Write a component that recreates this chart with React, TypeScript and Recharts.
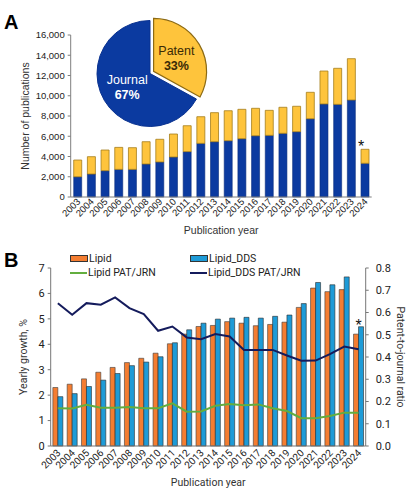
import React from 'react';
import {
  Bar,
  BarChart,
  Cell,
  ComposedChart,
  Label,
  LabelList,
  Legend,
  Line,
  Pie,
  PieChart,
  XAxis,
  YAxis,
} from 'recharts';

// publication years shared by both panels
const years = [
  '2003', '2004', '2005', '2006', '2007', '2008', '2009', '2010', '2011', '2012', '2013',
  '2014', '2015', '2016', '2017', '2018', '2019', '2020', '2021', '2022', '2023', '2024',
];
const partialYear = '2024';

// panel A: number of publications (stacked)
const journalCounts = [
  2000, 2270, 2600, 2730, 2730, 3260, 3460, 3950, 4480, 5300, 5460,
  5560, 5760, 6050, 6090, 6290, 6450, 7730, 9190, 9150, 9580, 3330,
];
const patentCounts = [
  1650, 1710, 2040, 2170, 2140, 2200, 2240, 2270, 2560, 2630, 2870,
  2960, 2900, 2710, 2470, 2570, 2510, 2610, 3250, 3560, 4080, 1380,
];
const countTicks = [0, 2000, 4000, 6000, 8000, 10000, 12000, 14000, 16000];

// panel A inset: share of documents
const shareNames = ['Patent', 'Journal'];
const shareValues = [33, 67];

// panel B: yearly growth (%) and patent-to-journal ratio
const lipidGrowth = [
  2.30, 2.43, 2.64, 2.90, 3.09, 3.28, 3.45, 3.65, 4.02, 4.40, 4.70,
  4.74, 4.89, 4.83, 4.73, 4.78, 4.87, 5.45, 6.21, 6.07, 6.15, 4.40,
];
const ddsGrowth = [
  1.94, 2.06, 2.34, 2.59, 2.85, 3.16, 3.30, 3.51, 4.06, 4.57, 4.83,
  4.99, 5.03, 5.06, 5.03, 5.10, 5.15, 5.60, 6.43, 6.34, 6.65, 4.69,
];
const lipidRatio = [
  0.170, 0.169, 0.185, 0.172, 0.172, 0.175, 0.170, 0.170, 0.192, 0.154, 0.155,
  0.181, 0.189, 0.183, 0.187, 0.170, 0.157, 0.125, 0.125, 0.135, 0.150, 0.150,
];
const ddsRatio = [
  0.642, 0.590, 0.642, 0.635, 0.668, 0.620, 0.593, 0.518, 0.537, 0.488, 0.480,
  0.503, 0.492, 0.432, 0.432, 0.432, 0.407, 0.383, 0.384, 0.413, 0.447, 0.435,
];
const growthTicks = [0, 1, 2, 3, 4, 5, 6, 7];
const ratioTicks = [0, 0.1, 0.2, 0.3, 0.4, 0.5, 0.6, 0.7, 0.8];
const legendOrder = ['Lipid', 'Lipid_DDS', 'Lipid PAT/JRN', 'Lipid_DDS PAT/JRN'];

const countData = years.map((year, i) => ({ year, journal: journalCounts[i], patent: patentCounts[i] }));
const shareData = shareNames.map((name, i) => ({ name, value: shareValues[i] }));
const growthData = years.map((year, i) => ({
  year,
  lipid: lipidGrowth[i],
  lipidDds: ddsGrowth[i],
  lipidRatio: lipidRatio[i],
  ddsRatio: ddsRatio[i],
}));

const fontA = '"Liberation Sans", Arial, sans-serif';
const fontB = 'Roboto, "Liberation Sans", sans-serif';

const BLUE = '#0b3aa0';
const YELLOW = '#fec43c';
const ORANGE = '#f47d31';
const SKY = '#1e9bd7';
const NAVY = '#141b5c';
const GREEN = '#63ae3f';

const axisTitle =
  (text: string, dx: number | 'mid', dy: number | 'mid', angle: number, font: string) =>
  (props: any) => {
    const vb = props.viewBox;
    if (!vb) return null;
    const x = dx === 'mid' ? vb.x + vb.width / 2 : vb.x + dx;
    const y = dy === 'mid' ? vb.y + vb.height / 2 : vb.y + dy;
    return (
      <text
        x={x}
        y={y}
        textAnchor="middle"
        dominantBaseline="central"
        transform={angle ? `rotate(${angle}, ${x}, ${y})` : undefined}
        fontFamily={font}
        fontSize={10.5}
        fill="#333"
      >
        {text}
      </text>
    );
  };

const yearTick = (font: string, size: number, dx: number, dy: number) => (props: any) => (
  <g transform={`translate(${props.x + dx},${props.y + dy})`}>
    <text textAnchor="end" dy="0.35em" transform="rotate(-45)" fontFamily={font} fontSize={size} fill="#222">
      {props.payload.value}
    </text>
  </g>
);

const star = (dx: number, dy: number) => (props: any) => {
  if (years[props.index] !== partialYear) return null;
  return (
    <text x={Number(props.x) + dx} y={Number(props.y) + dy} textAnchor="middle" fontSize={16} fill="#111" fontFamily={fontA}>
      *
    </text>
  );
};

const pieLabel = (show: string, color: string) => (props: any) => {
  if (props.name !== show) return null;
  const RAD = Math.PI / 180;
  const r = props.outerRadius * 0.5;
  const x = props.cx + r * Math.cos(-props.midAngle * RAD);
  const y = props.cy + r * Math.sin(-props.midAngle * RAD);
  return (
    <text x={x} y={y} textAnchor="middle" fontFamily={fontA} fontSize={12.5} fill={color}>
      <tspan x={x} dy={-3}>{props.name}</tspan>
      <tspan x={x} dy={15.5} fontWeight="bold">{`${Math.round(props.percent * 100)}%`}</tspan>
    </text>
  );
};

const GrowthLegend = (props: any) => {
  const items = [...(props.payload || [])].sort(
    (a: any, b: any) => legendOrder.indexOf(a.value) - legendOrder.indexOf(b.value),
  );
  return (
    <div
      style={{
        display: 'grid',
        gridTemplateColumns: '120px 150px',
        fontFamily: fontB,
        fontSize: 10.5,
        color: '#222',
      }}
    >
      {items.map((entry: any) => (
        <div key={entry.value} style={{ display: 'flex', alignItems: 'center', height: 14 }}>
          {entry.type === 'line' ? (
            <span style={{ width: 17, height: 2, background: entry.color }} />
          ) : (
            <span style={{ width: 16, height: 5, background: entry.color, border: '0.6px solid #333' }} />
          )}
          <span style={{ marginLeft: 1 }}>{entry.value}</span>
        </div>
      ))}
    </div>
  );
};

const PanelLetter: React.FC<{ letter: string; top: number }> = ({ letter, top }) => (
  <div
    style={{
      position: 'absolute',
      left: 4,
      top,
      fontFamily: fontA,
      fontWeight: 'bold',
      fontSize: 20,
      lineHeight: '20px',
      color: '#000',
    }}
  >
    {letter}
  </div>
);

export default function App() {
  return (
    <div style={{ position: 'absolute', left: 0, top: 0, width: 417, height: 496, background: '#fff', overflow: 'hidden' }}>
      <div style={{ position: 'absolute', left: 0, top: 0 }}>
        <BarChart
          width={417}
          height={240}
          data={countData}
          margin={{ top: 35, right: 45.3, bottom: 0, left: 10.7 }}
          barCategoryGap="22%"
        >
          <XAxis
            dataKey="year"
            interval={0}
            height={43}
            tickLine={false}
            tickSize={0}
            tickMargin={3}
            axisLine={{ stroke: '#7f7f7f' }}
            tick={yearTick(fontA, 9.5, 1, 0)}
          >
            <Label content={axisTitle('Publication year', 'mid', 33, 0, fontA)} />
          </XAxis>
          <YAxis
            width={60}
            domain={[0, 16000]}
            ticks={countTicks}
            interval={0}
            tickFormatter={(v: number) => v.toLocaleString('en-US')}
            tickSize={3}
            tickMargin={3}
            axisLine={{ stroke: '#7f7f7f' }}
            tickLine={{ stroke: '#7f7f7f' }}
            tick={{ fontSize: 9.5, fill: '#222', fontFamily: fontA }}
          >
            <Label content={axisTitle('Number of publications', 14.3, 'mid', -90, fontA)} />
          </YAxis>
          <Bar dataKey="journal" stackId="a" fill={BLUE} stroke="#082c7c" strokeWidth={0.6} isAnimationActive={false} />
          <Bar dataKey="patent" stackId="a" fill={YELLOW} stroke="#a57d1c" strokeWidth={0.8} isAnimationActive={false}>
            <LabelList content={star(0, 3)} />
          </Bar>
        </BarChart>
      </div>

      <div style={{ position: 'absolute', left: 80, top: 0 }}>
        <PieChart width={130} height={130}>
          <Pie
            data={shareData}
            dataKey="value"
            nameKey="name"
            cx={65}
            cy={68.5}
            outerRadius={53}
            startAngle={90}
            endAngle={-270}
            labelLine={false}
            label={pieLabel('Journal', '#fff')}
            isAnimationActive={false}
          >
            {shareData.map((d) => (
              <Cell key={d.name} fill={d.name === 'Journal' ? BLUE : 'none'} stroke={d.name === 'Journal' ? '#0a3290' : 'none'} />
            ))}
          </Pie>
          <Pie
            data={shareData}
            dataKey="value"
            nameKey="name"
            cx={68.6}
            cy={66.4}
            outerRadius={53}
            startAngle={90}
            endAngle={-270}
            labelLine={false}
            label={pieLabel('Patent', '#3a2a06')}
            isAnimationActive={false}
          >
            {shareData.map((d) => (
              <Cell
                key={d.name}
                fill={d.name === 'Patent' ? YELLOW : 'none'}
                stroke={d.name === 'Patent' ? '#8c6a14' : 'none'}
                strokeWidth={1.2}
              />
            ))}
          </Pie>
        </PieChart>
      </div>

      <div style={{ position: 'absolute', left: 0, top: 240 }}>
        <ComposedChart
          width={417}
          height={256}
          data={growthData}
          margin={{ top: 28, right: 6.3, bottom: 0, left: 10 }}
          barCategoryGap="15%"
          barGap={0}
        >
          <XAxis
            dataKey="year"
            interval={0}
            height={50}
            tickLine={false}
            tickSize={0}
            tickMargin={5}
            axisLine={{ stroke: '#777' }}
            tick={yearTick(fontB, 10, 1, 0)}
          >
            <Label content={axisTitle('Publication year', 'mid', 36, 0, fontB)} />
          </XAxis>
          <YAxis
            yAxisId="left"
            width={40.7}
            domain={[0, 7]}
            ticks={growthTicks}
            interval={0}
            tickSize={3}
            tickMargin={3}
            axisLine={{ stroke: '#777' }}
            tickLine={{ stroke: '#777' }}
            tick={{ fontSize: 11, fill: '#222', fontFamily: fontB }}
          >
            <Label content={axisTitle('Yearly growth, %', 13, 'mid', -90, fontB)} />
          </YAxis>
          <YAxis
            yAxisId="right"
            orientation="right"
            width={45}
            domain={[0, 0.8]}
            ticks={ratioTicks}
            interval={0}
            tickFormatter={(v: number) => v.toFixed(1)}
            tickSize={3}
            tickMargin={7}
            axisLine={{ stroke: '#777' }}
            tickLine={{ stroke: '#777' }}
            tick={{ fontSize: 11, fill: '#222', fontFamily: fontB }}
          >
            <Label content={axisTitle('Patent-to-journal ratio', 34.3, 'mid', 90, fontB)} />
          </YAxis>
          <Legend
            layout="horizontal"
            verticalAlign="middle"
            align="center"
            content={GrowthLegend}
            wrapperStyle={{ top: 11.5, left: 70, width: 280, height: 28 }}
          />
          <Bar yAxisId="left" dataKey="lipid" name="Lipid" fill={ORANGE} stroke="#3a3a3a" strokeWidth={0.6} isAnimationActive={false} />
          <Bar yAxisId="left" dataKey="lipidDds" name="Lipid_DDS" fill={SKY} stroke="#2a2a2a" strokeWidth={0.6} isAnimationActive={false}>
            <LabelList content={star(0, 4)} />
          </Bar>
          <Line
            yAxisId="right"
            type="linear"
            dataKey="lipidRatio"
            name="Lipid PAT/JRN"
            stroke={GREEN}
            strokeWidth={2}
            dot={false}
            activeDot={false}
            isAnimationActive={false}
          />
          <Line
            yAxisId="right"
            type="linear"
            dataKey="ddsRatio"
            name="Lipid_DDS PAT/JRN"
            stroke={NAVY}
            strokeWidth={2}
            dot={false}
            activeDot={false}
            isAnimationActive={false}
          />
        </ComposedChart>
      </div>

      <PanelLetter letter="A" top={12} />
      <PanelLetter letter="B" top={250} />
    </div>
  );
}
